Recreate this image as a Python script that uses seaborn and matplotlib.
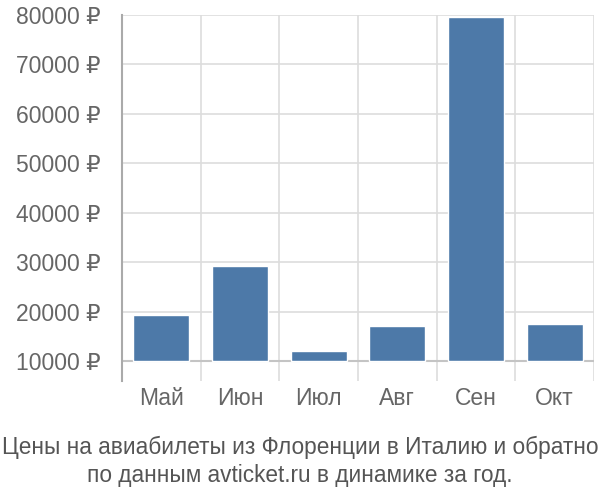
import numpy as np
import pandas as pd
import seaborn as sns
import matplotlib.pyplot as plt

months = ["Май", "Июн", "Июл", "Авг", "Сен", "Окт"]
prices = [19400, 29200, 12100, 17100, 79500, 17500]
y_ticks = [10000, 20000, 30000, 40000, 50000, 60000, 70000, 80000]
title = "Цены на авиабилеты из Флоренции в Италию и обратно\nпо данным avticket.ru в динамике за год."

base = 10000
df = pd.DataFrame({"month": months, "height": [p - base for p in prices]})

sns.set_style("white")
plt.rcParams["font.family"] = ["Liberation Sans", "DejaVu Sans"]

fig = plt.figure(figsize=(6, 5), dpi=100)
ax = fig.add_axes([122 / 600, 1 - 381 / 500, (594 - 122) / 600, (381 - 15) / 500])

sns.barplot(data=df, x="month", y="height", color="#4d79a8", saturation=1,
            width=0.71, bottom=base, ax=ax, zorder=3)

ax.set_xlim(-0.5, 5.5)
ax.set_ylim(base - 20 / 346 * 70000, 80000)
ax.set_yticks(y_ticks)
ax.set_yticklabels([f"{v} ₽" for v in y_ticks])
ax.set_xticks(np.arange(-0.5, 6, 1), minor=True)

ax.grid(axis="y", which="major", color="#dddddd", linewidth=1.2, zorder=0)
ax.grid(axis="x", which="minor", color="#dddddd", linewidth=1.2, zorder=0)
ax.axhline(base, color="#c4c4c4", linewidth=1.5, zorder=2)

# tick length in points: ~19 px
ax.tick_params(axis="y", which="major", length=13.7, width=1.2, color="#dddddd",
               pad=2, labelsize=16.5, labelcolor="#666666")
ax.tick_params(axis="x", which="major", length=0, pad=4, labelsize=16.5,
               labelcolor="#666666")
ax.tick_params(axis="x", which="minor", length=0)

for side in ["top", "right", "bottom"]:
    ax.spines[side].set_visible(False)
ax.spines["left"].set_color("#aaaaaa")
ax.spines["left"].set_linewidth(1.5)

ax.set_xlabel("")
ax.set_ylabel("")

fig.text(0.5, 1 - 461 / 500, title, ha="center", va="center", fontsize=16.3,
         color="#555555", linespacing=1.28)

fig.savefig("out.png", dpi=100)
